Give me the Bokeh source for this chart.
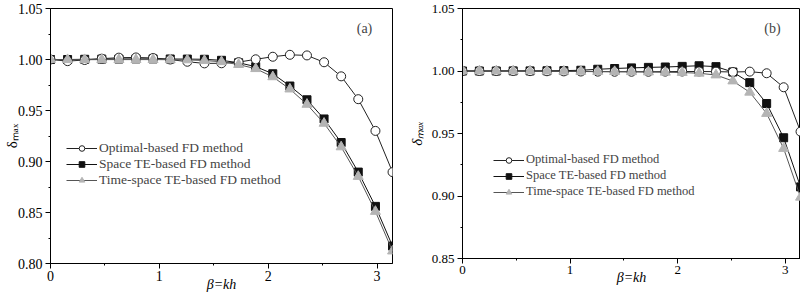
import math
from bokeh.plotting import figure
from bokeh.layouts import row
from bokeh.models import (Label, Legend, LegendItem, Range1d, FixedTicker,
                          PrintfTickFormatter)
from bokeh.embed import file_html
from bokeh.resources import INLINE

# ---------------- data ----------------
beta = [0.000, 0.157, 0.314, 0.471, 0.628, 0.785, 0.942, 1.100, 1.257, 1.414,
        1.571, 1.728, 1.885, 2.042, 2.199, 2.356, 2.513, 2.670, 2.827, 2.985, 3.142]

# panel (a)
opt_a = [1.0000, 0.9984, 0.9995, 1.0008, 1.0018, 1.0020, 1.0015, 1.0000, 0.9978, 0.9962,
         0.9963, 0.9974, 1.0002, 1.0027, 1.0046, 1.0040, 0.9973, 0.9835, 0.9611, 0.9300, 0.8896]
space_a = [1.0000, 1.0000, 1.0002, 1.0004, 1.0005, 1.0006, 1.0006, 1.0005, 1.0004, 1.0002,
           0.9992, 0.9968, 0.9930, 0.9860, 0.9740, 0.9605, 0.9417, 0.9186, 0.8896, 0.8560, 0.8171]
time_a = [1.0000, 0.9998, 0.9998, 0.9999, 0.9999, 0.9999, 0.9999, 0.9998, 0.9996, 0.9990,
          0.9978, 0.9950, 0.9910, 0.9830, 0.9710, 0.9560, 0.9374, 0.9143, 0.8853, 0.8510, 0.8122]

# panel (b)
opt_b = [1.0000, 1.0000, 1.0000, 1.0000, 0.9999, 0.9998, 0.9997, 0.9996, 0.9995, 0.9994,
         0.9994, 0.9994, 0.9995, 0.9996, 0.9996, 0.9995, 0.9992, 0.9995, 0.9982, 0.9870, 0.9515]
space_b = [1.0000, 1.0000, 1.0000, 1.0001, 1.0001, 1.0002, 1.0003, 1.0006, 1.0014, 1.0020,
           1.0025, 1.0029, 1.0032, 1.0037, 1.0042, 1.0035, 0.9992, 0.9907, 0.9740, 0.9466, 0.9073]
time_b = [1.0000, 1.0000, 1.0000, 1.0000, 1.0000, 0.9999, 0.9998, 0.9997, 0.9996, 0.9995,
          0.9994, 0.9992, 0.9990, 0.9988, 0.9982, 0.9968, 0.9920, 0.9830, 0.9660, 0.9380, 0.8990]

labels = ["Optimal-based FD method", "Space TE-based FD method", "Time-space TE-based FD method"]
x_ticks = [0, 1, 2, 3]
x_minor = [0.5, 1.5, 2.5]
y_ticks_a = [0.80, 0.85, 0.90, 0.95, 1.00, 1.05]
y_minor_a = [0.825, 0.875, 0.925, 0.975, 1.025]
y_ticks_b = [0.85, 0.90, 0.95, 1.00, 1.05]
y_minor_b = [0.875, 0.925, 0.975, 1.025]
x_label = "β=kh"
y_label = "δₘₐₓ"

SERIF = "Liberation Serif"


def make_panel(opt, space, time, y0, y1, yt, ym, tag, W, H, bl, br, bt, bb,
               tick_fs, leg_fs, leg_loc, leg_spacing, tag_pos, italic_y,
               ylab_standoff, xlab_standoff, ylab_fs):
    p = figure(width=W, height=H, x_range=Range1d(0, math.pi), y_range=Range1d(y0, y1),
               output_backend="svg", toolbar_location=None, title=None,
               min_border_left=bl, min_border_right=br, min_border_top=bt,
               min_border_bottom=bb)
    p.xgrid.visible = False
    p.ygrid.visible = False
    p.outline_line_color = "black"
    p.outline_line_width = 1
    p.background_fill_color = "white"
    p.border_fill_color = "white"

    fw = W - bl - br
    fh = H - bt - bb

    def dx(sx):
        return (sx - bl) / fw * math.pi

    def dy(sy):
        return y1 - (sy - bt) / fh * (y1 - y0)

    for ax in (p.xaxis[0], p.yaxis[0]):
        ax.axis_line_color = "black"
        ax.major_tick_line_color = "black"
        ax.minor_tick_line_color = "black"
        ax.major_tick_in = 0
        ax.major_tick_out = 5
        ax.minor_tick_in = 0
        ax.minor_tick_out = 2
        ax.major_label_text_font = SERIF
        ax.major_label_text_font_size = tick_fs
        ax.major_label_text_color = "black"
        ax.axis_label_text_font = SERIF
        ax.axis_label_text_color = "black"
    p.xaxis.ticker = FixedTicker(ticks=x_ticks, minor_ticks=x_minor)
    p.yaxis.ticker = FixedTicker(ticks=yt, minor_ticks=ym)
    p.yaxis.formatter = PrintfTickFormatter(format="%.2f")
    p.yaxis.major_label_standoff = 3
    p.xaxis.major_label_standoff = 2

    p.xaxis.axis_label = x_label
    p.xaxis.axis_label_text_font_style = "italic"
    p.xaxis.axis_label_text_font_size = "14px"
    p.xaxis.axis_label_standoff = xlab_standoff
    p.yaxis.axis_label = y_label
    p.yaxis.axis_label_text_font_style = "italic" if italic_y else "normal"
    p.yaxis.axis_label_text_font_size = ylab_fs
    p.yaxis.axis_label_standoff = ylab_standoff

    # series: squares, circles, triangles (draw order)
    l_sq = p.line(beta, space, line_color="#111111", line_width=1)
    m_sq = p.scatter(beta, space, marker="square", size=8, fill_color="#111111",
                     line_color="#111111")
    l_ci = p.line(beta, opt, line_color="#222222", line_width=1)
    m_ci = p.scatter(beta, opt, marker="circle", size=9, fill_color="white",
                     line_color="#222222", line_width=1)
    l_tr = p.line(beta, time, line_color="#555555", line_width=1)
    m_tr = p.scatter(beta, time, marker="triangle", size=10, fill_color="#b4b4b4",
                     line_color="#b4b4b4")

    legend = Legend(items=[LegendItem(label=labels[0], renderers=[l_ci, m_ci]),
                           LegendItem(label=labels[1], renderers=[l_sq, m_sq]),
                           LegendItem(label=labels[2], renderers=[l_tr, m_tr])],
                    location=leg_loc, glyph_width=31, glyph_height=14, label_height=14,
                    label_standoff=2, spacing=leg_spacing, padding=0, margin=0,
                    border_line_color=None, background_fill_alpha=0,
                    label_text_font=SERIF, label_text_font_size=leg_fs)
    p.add_layout(legend, "center")

    p.add_layout(Label(x=dx(tag_pos[0]), y=dy(tag_pos[1]), text=tag, text_font=SERIF,
                       text_font_size="14px", text_align="center", text_baseline="middle"))
    return p


pa = make_panel(opt_a, space_a, time_a, 0.80, 1.05, y_ticks_a, y_minor_a, "(a)",
                400, 298, 50, 8, 8, 35, "14px", "13.5px", (16, 75), 0, (364, 28),
                False, -5, -7, "15px")
pb = make_panel(opt_b, space_b, time_b, 0.85, 1.05, y_ticks_b, y_minor_b, "(b)",
                400, 293, 62, 0, 8, 35, "13px", "12.5px", (31, 59), 1, (372, 28),
                True, 4, -7, "15px")

layout = row(pa, pb)
open("out.html", "w").write(file_html(layout, INLINE))
